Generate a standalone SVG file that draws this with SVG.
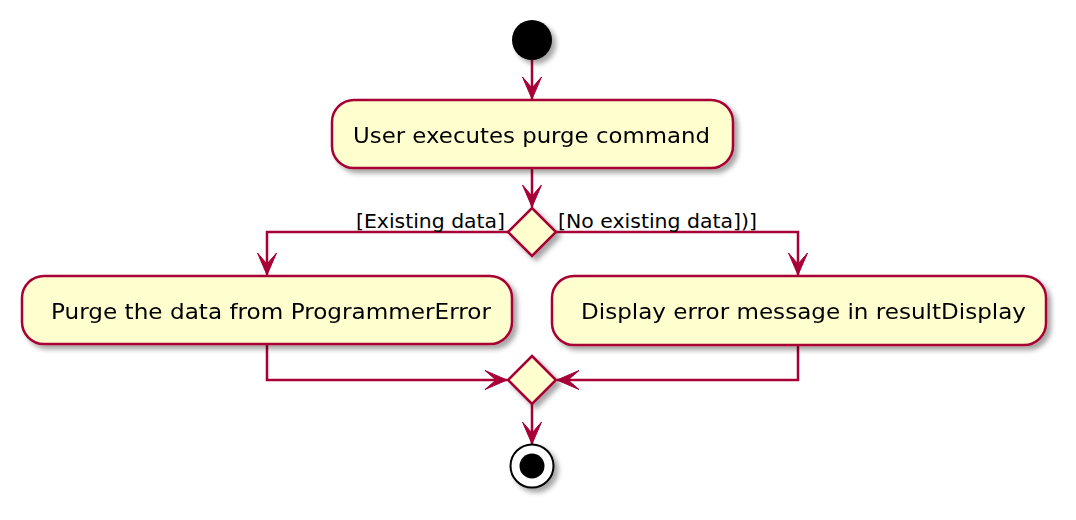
<svg xmlns="http://www.w3.org/2000/svg" width="1076" height="520" viewBox="0 0 1076 520">
<defs>
<filter id="sh" x="-20%" y="-20%" width="150%" height="160%">
<feGaussianBlur in="SourceAlpha" stdDeviation="2.5"/>
<feOffset dx="4" dy="4" result="b"/>
<feFlood flood-color="#000" flood-opacity="0.35"/>
<feComposite in2="b" operator="in"/>
<feMerge><feMergeNode/><feMergeNode in="SourceGraphic"/></feMerge>
</filter>
<marker id="ah" viewBox="-24 -12 26 24" markerWidth="26" markerHeight="24" refX="0" refY="0" orient="auto" markerUnits="userSpaceOnUse">
<polygon points="0,0 -22,-9.5 -11,0 -22,9.5" fill="#A80036" stroke="#A80036" stroke-width="1" stroke-linejoin="miter"/>
</marker>
</defs>
<style>
.act{fill:#FEFECE;stroke:#A80036;stroke-width:2.5}
.dec{fill:#FEFECE;stroke:#A80036;stroke-width:2.5;stroke-linejoin:miter}
.ln{fill:none;stroke:#A80036;stroke-width:2.5}
.t{font-family:"DejaVu Sans","Liberation Sans",sans-serif;font-size:22px;fill:#000}
.g{font-family:"DejaVu Sans","Liberation Sans",sans-serif;font-size:19.5px;fill:#000}
</style>
<g id="connectors">
<path class="ln" d="M532,60 V99" marker-end="url(#ah)"/>
<path class="ln" d="M532,168 V207" marker-end="url(#ah)"/>
<path class="ln" d="M508,232 H267 V275" marker-end="url(#ah)"/>
<path class="ln" d="M556,232 H798 V275" marker-end="url(#ah)"/>
<path class="ln" d="M267,344 V380 H507" marker-end="url(#ah)"/>
<path class="ln" d="M798,345 V380 H557" marker-end="url(#ah)"/>
<path class="ln" d="M532,404 V444" marker-end="url(#ah)"/>
<text class="g" x="356" y="228" textLength="149" lengthAdjust="spacingAndGlyphs">[Existing data]</text>
<text class="g" x="558" y="228" textLength="199" lengthAdjust="spacingAndGlyphs">[No existing data])]</text>
</g>
<g id="start" filter="url(#sh)">
<circle cx="532" cy="40" r="20" fill="#000"/>
</g>
<g id="userExecutes" filter="url(#sh)">
<rect class="act" x="332" y="100" width="401" height="68" rx="22" ry="22"/>
<text class="t" x="353" y="142.5" textLength="357" lengthAdjust="spacingAndGlyphs">User executes purge command</text>
</g>
<g id="decision" filter="url(#sh)">
<polygon class="dec" points="532,208 556,232 532,256 508,232"/>
</g>
<g id="purge" filter="url(#sh)">
<rect class="act" x="22" y="276" width="490" height="68" rx="22" ry="22"/>
<text class="t" x="51" y="318.5" textLength="440" lengthAdjust="spacingAndGlyphs">Purge the data from ProgrammerError</text>
</g>
<g id="displayError" filter="url(#sh)">
<rect class="act" x="552" y="276" width="494" height="69" rx="22" ry="22"/>
<text class="t" x="581" y="318.5" textLength="445" lengthAdjust="spacingAndGlyphs">Display error message in resultDisplay</text>
</g>
<g id="merge" filter="url(#sh)">
<polygon class="dec" points="532,356 556,380 532,404 508,380"/>
</g>
<g id="end" filter="url(#sh)">
<circle cx="532" cy="466" r="21.5" fill="#fff" stroke="#000" stroke-width="2"/>
<circle cx="532" cy="466" r="12.5" fill="#000"/>
</g>
</svg>
